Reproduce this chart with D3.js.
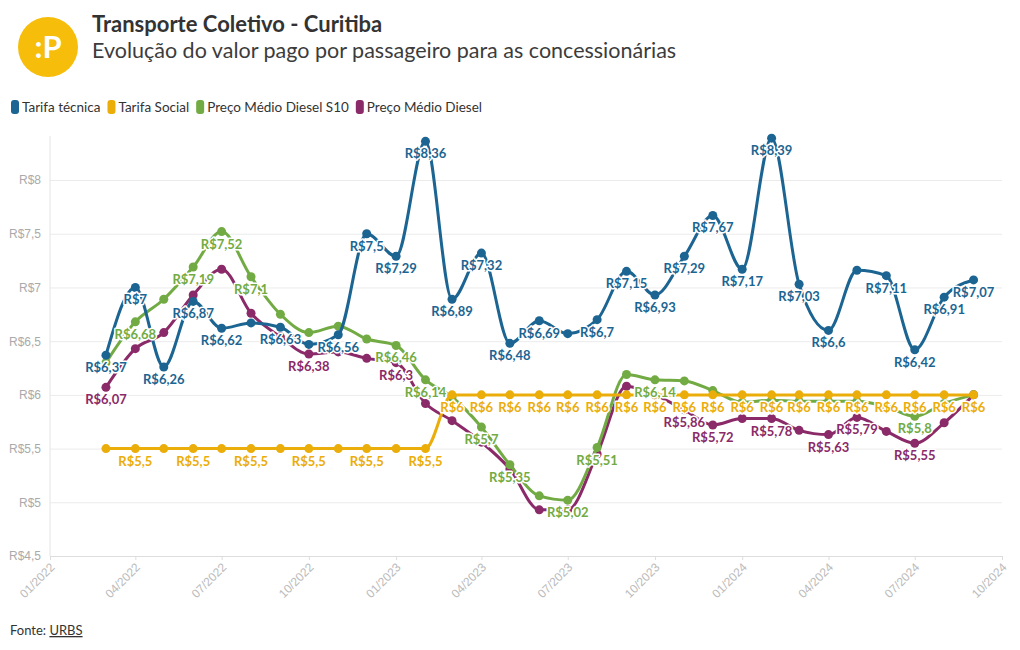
<!DOCTYPE html>
<html>
<head>
<meta charset="utf-8">
<script src="https://cdn.jsdelivr.net/npm/d3@7"></script>
<style>
  body { margin: 0; background: #fff; }
  svg { display: block; font-family: "Source Sans Pro", Lato, "Noto Sans", sans-serif; }
</style>
</head>
<body>
<svg id="chart" width="1020" height="650"></svg>
<script>
// ---- data ----
const months = ["2022-03","2022-04","2022-05","2022-06","2022-07","2022-08","2022-09","2022-10","2022-11","2022-12",
  "2023-01","2023-02","2023-03","2023-04","2023-05","2023-06","2023-07","2023-08","2023-09","2023-10","2023-11","2023-12",
  "2024-01","2024-02","2024-03","2024-04","2024-05","2024-06","2024-07","2024-08","2024-09"];
const tarifaTecnica = [6.37, 7.00, 6.26, 6.87, 6.62, 6.67, 6.63, 6.47, 6.56, 7.50, 7.29, 8.36, 6.89, 7.32, 6.48, 6.69,
  6.57, 6.70, 7.15, 6.93, 7.29, 7.67, 7.17, 8.39, 7.03, 6.60, 7.16, 7.11, 6.42, 6.91, 7.07];
const tarifaSocial = [5.5, 5.5, 5.5, 5.5, 5.5, 5.5, 5.5, 5.5, 5.5, 5.5, 5.5, 5.5, 6, 6, 6, 6, 6, 6, 6, 6, 6, 6,
  6, 6, 6, 6, 6, 6, 6, 6, 6];
const dieselS10 = [6.30, 6.68, 6.89, 7.19, 7.52, 7.10, 6.75, 6.58, 6.64, 6.52, 6.46, 6.14, 5.98, 5.70, 5.35, 5.06,
  5.02, 5.51, 6.19, 6.14, 6.13, 6.04, 5.93, 5.95, 5.94, 5.94, 5.94, 5.89, 5.80, 5.92, 6.00];
const diesel = [6.07, 6.43, 6.58, 6.93, 7.17, 6.76, 6.54, 6.38, 6.40, 6.34, 6.30, 5.92, 5.76, 5.56, 5.31, 4.93,
  4.93, 5.45, 6.08, 6.00, 5.86, 5.72, 5.78, 5.78, 5.67, 5.63, 5.79, 5.66, 5.55, 5.74, 6.00];
// indices of points whose value label is shown
const tecnicaLabels = [0,1,2,3,4,6,8,9,10,11,12,13,14,15,17,18,19,20,21,22,23,24,25,27,28,29,30];
const socialLabels = [1,3,5,7,9,11,12,13,14,15,16,17,18,19,20,21,22,23,24,25,26,27,28,29,30];
const s10Labels = [1,3,4,5,10,11,13,14,16,17,19,28];
const dieselLabels = [0,7,10,20,21,23,25,26,28];
const seriesNames = ["Tarifa técnica", "Tarifa Social", "Preço Médio Diesel S10", "Preço Médio Diesel"];
const seriesColors = ["#1c6592", "#ebad0a", "#72ab43", "#8b2a68"];
const yTicks = [4.5, 5, 5.5, 6, 6.5, 7, 7.5, 8];
const xTickDates = ["2022-01","2022-04","2022-07","2022-10","2023-01","2023-04","2023-07","2023-10","2024-01","2024-04","2024-07","2024-10"];

// ---- setup ----
const svg = d3.select("#chart");
const parse = d3.timeParse("%Y-%m");
const dates = months.map(parse);
const series = [
  {name: seriesNames[0], color: seriesColors[0], values: tarifaTecnica, labels: tecnicaLabels},
  {name: seriesNames[1], color: seriesColors[1], values: tarifaSocial, labels: socialLabels},
  {name: seriesNames[2], color: seriesColors[2], values: dieselS10, labels: s10Labels},
  {name: seriesNames[3], color: seriesColors[3], values: diesel, labels: dieselLabels}
];

const x = d3.scaleTime().domain([parse("2022-01"), parse("2024-10")]).range([50, 1002]);
const y = d3.scaleLinear().domain([4.5, 8.41]).range([556, 136]);

const fmt = v => "R$" + String(+v.toFixed(2)).replace(".", ",");

// ---- header ----
svg.append("circle").attr("cx", 48).attr("cy", 47).attr("r", 30).attr("fill", "#f6bd0a");
svg.append("text").attr("x", 48).attr("y", 58).attr("text-anchor", "middle")
  .attr("font-size", 31).attr("font-weight", 700).attr("fill", "#fff").text(":P");
svg.append("text").attr("x", 92).attr("y", 32).attr("font-size", 22).attr("font-weight", 700)
  .attr("fill", "#333").text("Transporte Coletivo - Curitiba");
svg.append("text").attr("x", 92).attr("y", 58).attr("font-size", 21.5)
  .attr("fill", "#3c3c3c").text("Evolução do valor pago por passageiro para as concessionárias");

// ---- legend ----
const legend = svg.append("g");
let lx = 11;
series.forEach(s => {
  const g = legend.append("g").attr("transform", `translate(${lx},0)`);
  g.append("rect").attr("x", 0).attr("y", 100).attr("width", 8).attr("height", 14).attr("rx", 3).attr("fill", s.color);
  const t = g.append("text").attr("x", 11).attr("y", 112).attr("font-size", 13.5).attr("fill", "#333").text(s.name);
  lx += 11 + t.node().getComputedTextLength() + 7;
});

// ---- axes ----
const yAxis = svg.append("g").attr("transform", "translate(50,0)")
  .call(d3.axisLeft(y).tickValues(yTicks).tickSize(-952).tickFormat(d => fmt(d)));
yAxis.select(".domain").remove();
yAxis.selectAll(".tick line").attr("stroke", "#ebebeb");
yAxis.selectAll(".tick text").attr("x", -9).attr("fill", "#aaa").attr("font-size", 12)
  .attr("font-family", "inherit");
yAxis.selectAll(".tick").filter(d => d === 4.5).select("line").attr("stroke", "#ddd");

svg.append("line").attr("x1", 50).attr("x2", 50).attr("y1", 136).attr("y2", 556).attr("stroke", "#e4e4e4");

const xAxis = svg.append("g").attr("transform", "translate(0,556)")
  .call(d3.axisBottom(x).tickValues(xTickDates.map(parse)).tickSize(4).tickFormat(d3.timeFormat("%m/%Y")));
xAxis.select(".domain").remove();
xAxis.selectAll(".tick line").attr("stroke", "#ddd");
xAxis.selectAll(".tick text").attr("fill", "#bbb").attr("font-size", 12).attr("font-family", "inherit")
  .attr("text-anchor", "end").attr("y", 0).attr("dy", 0)
  .attr("transform", "translate(5,12) rotate(-45)");

// ---- lines ----
const line = d3.line().x((d, i) => x(dates[i])).y(d => y(d)).curve(d3.curveMonotoneX);
const plot = svg.append("g");
series.slice().reverse().forEach(s => {
  plot.append("path").datum(s.values).attr("d", line).attr("fill", "none")
    .attr("stroke", s.color).attr("stroke-width", 3).attr("stroke-linejoin", "round").attr("stroke-linecap", "round");
  plot.selectAll(null).data(s.values).join("circle")
    .attr("cx", (d, i) => x(dates[i])).attr("cy", d => y(d)).attr("r", 4.5).attr("fill", s.color);
});

// ---- value labels ----
const labG = svg.append("g");
series.forEach(s => {
  const pts = s.labels.map(i => ({i, v: s.values[i]}));
  labG.selectAll(null).data(pts).join("text")
    .attr("x", d => x(dates[d.i])).attr("y", d => y(d.v) + 17)
    .attr("text-anchor", "middle").attr("font-size", 13).attr("font-weight", 700)
    .attr("fill", s.color).attr("stroke", "#fff").attr("stroke-width", 3).attr("stroke-linejoin", "round")
    .attr("paint-order", "stroke").text(d => fmt(d.v));
});

// ---- footer ----
const foot = svg.append("text").attr("x", 10).attr("y", 635).attr("font-size", 13).attr("fill", "#333");
foot.append("tspan").text("Fonte: ");
foot.append("tspan").attr("text-decoration", "underline").text("URBS");
</script>
</body>
</html>
